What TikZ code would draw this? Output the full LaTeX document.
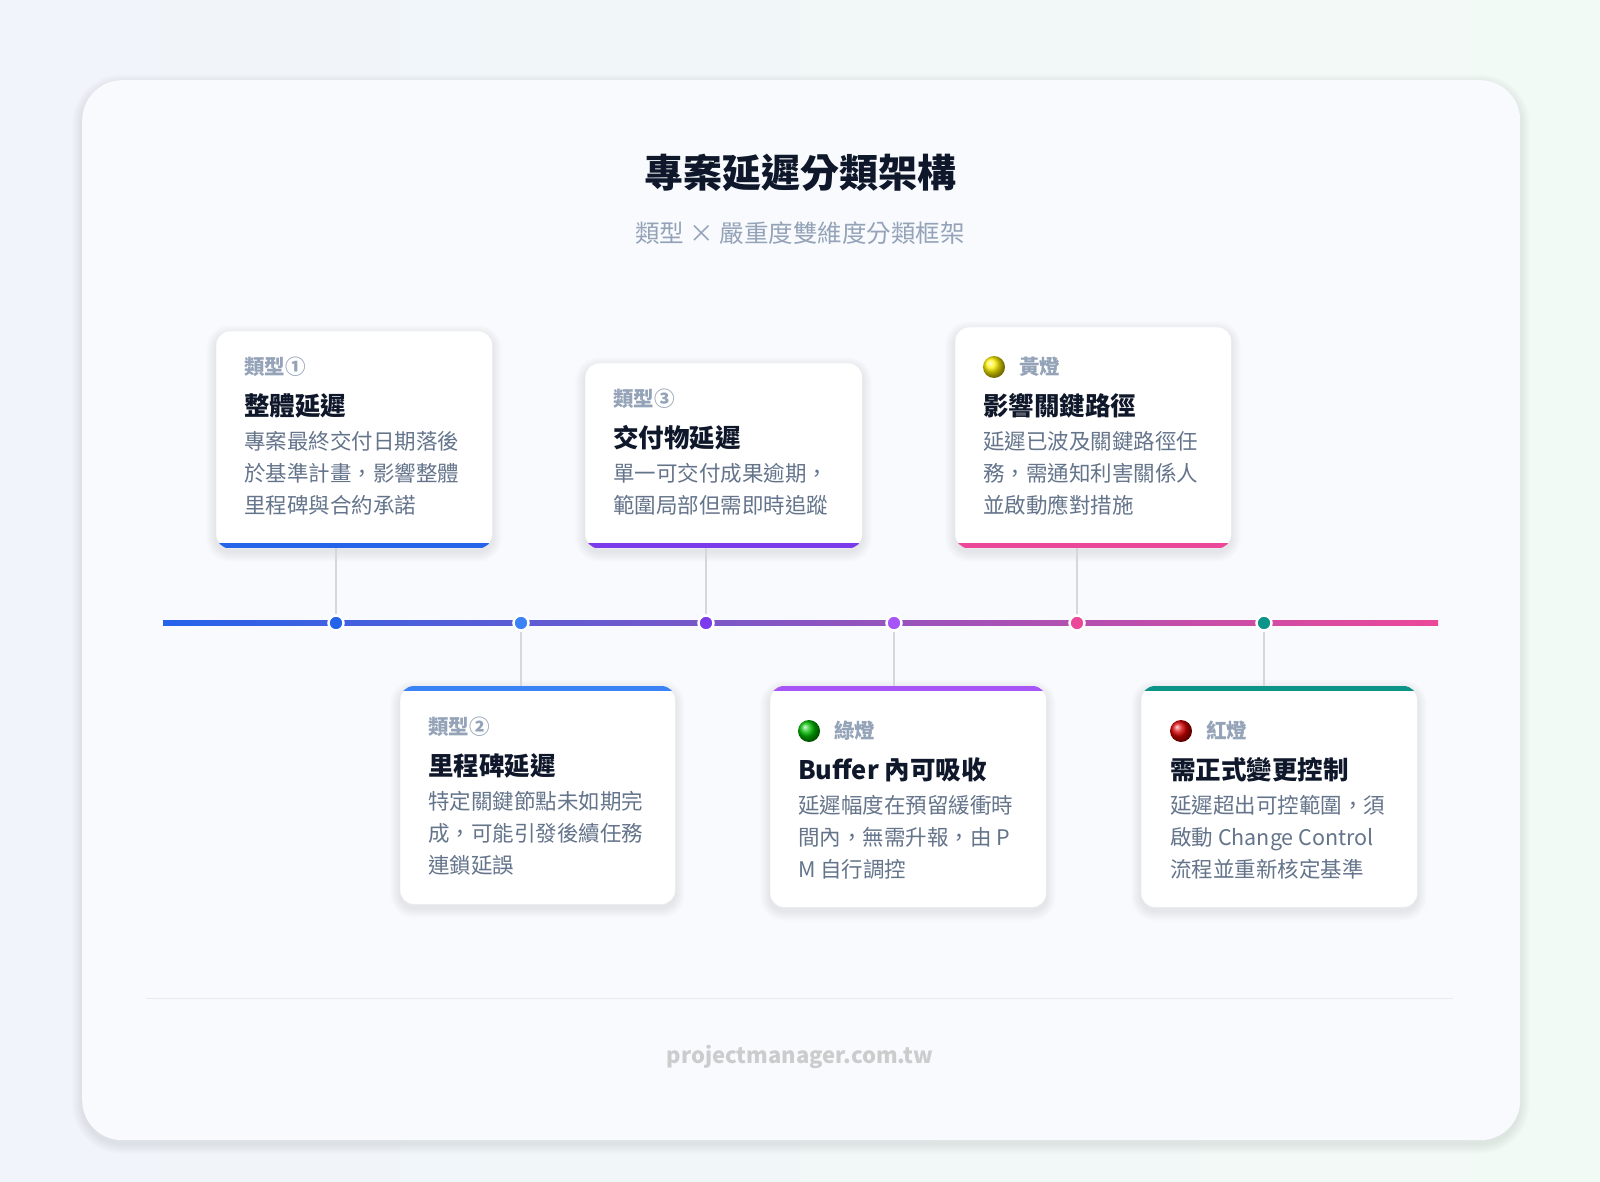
\documentclass[tikz,border=0pt]{standalone}
\usepackage{fontspec}
\setmainfont{Noto Sans CJK TC}
\definecolor{bgA}{HTML}{F1F4FB}
\definecolor{bgB}{HTML}{F2FAF6}
\definecolor{cardbg}{HTML}{F8FAFD}
\definecolor{ink}{HTML}{0F172A}
\definecolor{lbl}{HTML}{94A3B8}
\definecolor{body}{HTML}{64748B}
\definecolor{cA}{HTML}{2563EB}
\definecolor{cB}{HTML}{3B82F6}
\definecolor{cC}{HTML}{7C3AED}
\definecolor{cD}{HTML}{A855F7}
\definecolor{cE}{HTML}{EC4899}
\definecolor{cF}{HTML}{0D9488}
\definecolor{conn}{HTML}{D4D8DE}
\tikzset{
 card/.style={draw=black!5,fill=white,rounded corners=14pt,inner sep=0pt,anchor=north west},
 lab/.style={anchor=west,inner sep=0pt,text=lbl,font=\fontsize{20.5}{24}\selectfont\bfseries},
 head/.style={anchor=west,inner sep=0pt,text=ink,font=\fontsize{25.5}{30}\selectfont\bfseries},
 bod/.style={anchor=north west,inner sep=0pt,text=body,align=left,font=\fontsize{21.5}{32}\selectfont},
 dot/.style={circle,fill=#1,draw=white,line width=2.5pt,minimum size=15pt,inner sep=0pt},
 cn/.style={draw=conn,line width=2.5pt},
}
\newcommand{\softshadow}[5]{% x y w h r
 \foreach \s in {1,...,10}{
  \fill[black,opacity=0.008,rounded corners=#5pt+\s pt] (#1-\s,#2-\s+4) rectangle (#1+#3+\s,#2+#4+\s+4);}}
\newcommand{\mkcard}[7]{% name, x, y, w, h, color, top?
 \softshadow{#2}{#3}{#4}{#5}{14}
 \node[card,minimum width=#4pt,minimum height=#5pt] (#1) at (#2,#3) {};
 \begin{scope}
 \clip[rounded corners=14pt] (#1.south west) rectangle (#1.north east);
 \ifnum#7=1
 \fill[#6] (#1.north west) rectangle ([yshift=-5pt]#1.north east);
 \else
 \fill[#6] (#1.south west) rectangle ([yshift=5pt]#1.south east);
 \fi
 \end{scope}}
\begin{document}
\begin{tikzpicture}[x=1pt,y=-1pt]
\shade[left color=bgA,right color=bgB] (0,0) rectangle (1600,1182);
\useasboundingbox (0,0) rectangle (1600,1182);
\softshadow{82}{80}{1438}{1060}{40}
\node[fill=cardbg,rounded corners=40pt,minimum width=1438pt,minimum height=1060pt,anchor=north west,inner sep=0pt] (main) at (82,80) {};
\node[text=ink,font=\fontsize{39}{44}\selectfont\bfseries] (title) at (800,173) {專案延遲分類架構};
\node[text=lbl,font=\fontsize{24.5}{28}\selectfont] (sub) at (800,233) {類型 × 嚴重度雙維度分類框架};
% timeline
\shade[left color=cA,middle color=cC,right color=cE] (163,620.5) rectangle (1438,625.5);
\coordinate (tl) at (163,623); \coordinate (tr) at (1438,623);
% cards
\mkcard{k1}{216}{331}{276}{217}{cA}{0}
\mkcard{k3}{585}{363}{277}{185}{cC}{0}
\mkcard{k5}{955}{327}{276}{221}{cE}{0}
\mkcard{k2}{400}{686}{275}{218}{cB}{1}
\mkcard{k4}{770}{686}{276}{221}{cD}{1}
\mkcard{k6}{1141}{686}{276}{221}{cF}{1}
% dots
\node[dot=cA] (d1) at (336,623) {};
\node[dot=cB] (d2) at (521,623) {};
\node[dot=cC] (d3) at (706,623) {};
\node[dot=cD] (d4) at (894,623) {};
\node[dot=cE] (d5) at (1077,623) {};
\node[dot=cF] (d6) at (1264,623) {};
\draw[cn] (k1.south -| d1) -- (d1.north);
\draw[cn] (k3.south -| d3) -- (d3.north);
\draw[cn] (k5.south -| d5) -- (d5.north);
\draw[cn] (d2.south) -- (k2.north -| d2);
\draw[cn] (d4.south) -- (k4.north -| d4);
\draw[cn] (d6.south) -- (k6.north -| d6);
% card 1
\node[lab] (l1) at (244,367) {類型①};
\node[head] (h1) at (244,406) {整體延遲};
\node[bod] (b1) at (244,431) {專案最終交付日期落後\\於基準計畫，影響整體\\里程碑與合約承諾};
% card 3
\node[lab] (l3) at (613,399) {類型③};
\node[head] (h3) at (613,438) {交付物延遲};
\node[bod] (b3) at (613,463) {單一可交付成果逾期，\\範圍局部但需即時追蹤};
% card 5
\shade[ball color=yellow!90!orange] (994,367) circle (11pt);
\node[lab] (l5) at (1019,367) {黃燈};
\node[head] (h5) at (983,406) {影響關鍵路徑};
\node[bod] (b5) at (983,431) {延遲已波及關鍵路徑任\\務，需通知利害關係人\\並啟動應對措施};
% card 2
\node[lab] (l2) at (428,727) {類型②};
\node[head] (h2) at (428,766) {里程碑延遲};
\node[bod] (b2) at (428,791) {特定關鍵節點未如期完\\成，可能引發後續任務\\連鎖延誤};
% card 4
\shade[ball color=green!75!black] (809,731) circle (11pt);
\node[lab] (l4) at (834,731) {綠燈};
\node[head] (h4) at (798,770) {Buffer 內可吸收};
\node[bod] (b4) at (798,795) {延遲幅度在預留緩衝時\\間內，無需升報，由 P\\M 自行調控};
% card 6
\shade[ball color=red!85!black] (1181,731) circle (11pt);
\node[lab] (l6) at (1206,731) {紅燈};
\node[head] (h6) at (1170,770) {需正式變更控制};
\node[bod] (b6) at (1170,795) {延遲超出可控範圍，須\\啟動 Change Control\\流程並重新核定基準};
% footer
\coordinate (fa) at (146,998); \coordinate (fb) at (1453,998);
\draw[black!8,line width=1pt] (fa) -- (fb);
\node[text=black!20,font=\fontsize{22}{26}\selectfont\bfseries] (foot) at (800,1057) {projectmanager.com.tw};
\end{tikzpicture}
\end{document}
